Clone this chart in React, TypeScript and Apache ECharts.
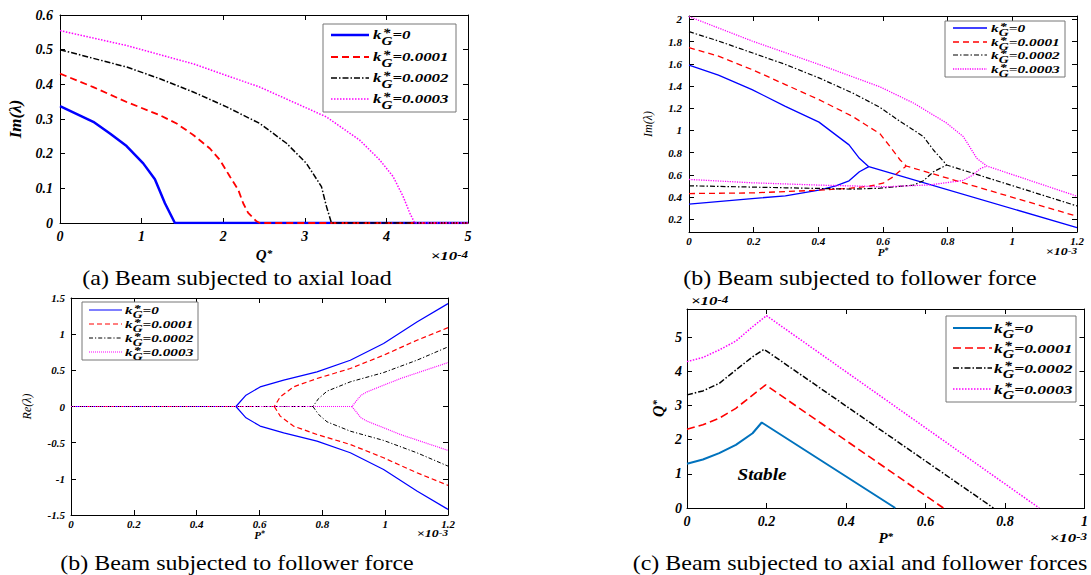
import React, { useEffect, useRef } from "react";
import * as echarts from "echarts";

const FONT = "'Liberation Serif', 'Times New Roman', serif";

const kValues = ["0", "0.0001", "0.0002", "0.0003"];
const colorsAB = ["#0000ff", "#ff0000", "#000000", "#ff00ff"];
const colorsC = ["#0072bd", "#ff0000", "#000000", "#ff00ff"];

// (a) Im(lambda) vs Q* (x1e-4), beam under axial load
const axialK0 = [[0, 0.337], [0.408, 0.292], [0.612, 0.258], [0.816, 0.222], [1.02, 0.172], [1.163, 0.126], [1.286, 0.057], [1.408, 0], [5, 0]];
const axialK1 = [[0, 0.431], [0.408, 0.392], [0.816, 0.349], [1.224, 0.311], [1.429, 0.287], [1.633, 0.254], [1.837, 0.215], [1.959, 0.182], [2.082, 0.134], [2.184, 0.096], [2.245, 0.057], [2.306, 0.029], [2.408, 0.005], [2.45, 0], [5, 0]];
const axialK2 = [[0, 0.5], [0.816, 0.45], [1.224, 0.416], [1.633, 0.378], [2.041, 0.335], [2.449, 0.287], [2.776, 0.23], [3.02, 0.172], [3.204, 0.105], [3.265, 0.048], [3.327, 0], [5, 0]];
const axialK3 = [[0, 0.555], [0.816, 0.512], [1.633, 0.459], [2.449, 0.392], [3.265, 0.306], [3.673, 0.239], [3.918, 0.182], [4.082, 0.134], [4.204, 0.077], [4.286, 0.029], [4.347, 0], [5, 0]];

// (b) Im(lambda) vs P* (x1e-3), follower force: upper branch (continues after coalescence) and lower branch
const follImUpperK0 = [[0, 1.588], [0.091, 1.497], [0.195, 1.367], [0.298, 1.217], [0.402, 1.075], [0.454, 0.96], [0.495, 0.87], [0.527, 0.749], [0.556, 0.674], [1.2, 0.125]];
const follImLowerK0 = [[0, 0.336], [0.195, 0.387], [0.298, 0.411], [0.402, 0.462], [0.454, 0.502], [0.495, 0.547], [0.527, 0.628], [0.556, 0.674]];
const follImUpperK1 = [[0, 1.745], [0.091, 1.669], [0.195, 1.548], [0.298, 1.413], [0.402, 1.277], [0.506, 1.126], [0.591, 0.969], [0.622, 0.854], [0.653, 0.734], [0.672, 0.68], [1.2, 0.227]];
const follImLowerK1 = [[0, 0.432], [0.2, 0.438], [0.4, 0.462], [0.5, 0.48], [0.56, 0.5], [0.6, 0.525], [0.63, 0.58], [0.65, 0.63], [0.672, 0.68]];
const follImUpperK2 = [[0, 1.889], [0.091, 1.805], [0.195, 1.699], [0.298, 1.594], [0.402, 1.473], [0.506, 1.337], [0.591, 1.207], [0.653, 1.081], [0.694, 1.005], [0.725, 0.945], [0.756, 0.824], [0.797, 0.689], [1.2, 0.32]];
const follImLowerK2 = [[0, 0.502], [0.298, 0.484], [0.506, 0.472], [0.591, 0.48], [0.694, 0.508], [0.725, 0.547], [0.756, 0.628], [0.797, 0.689]];
const follImUpperK3 = [[0, 2.025], [0.195, 1.805], [0.402, 1.594], [0.591, 1.392], [0.694, 1.247], [0.797, 1.066], [0.848, 0.945], [0.869, 0.849], [0.89, 0.749], [0.921, 0.68], [1.2, 0.408]];
const follImLowerK3 = [[0, 0.559], [0.195, 0.529], [0.402, 0.508], [0.609, 0.493], [0.745, 0.51], [0.848, 0.55], [0.879, 0.6], [0.9, 0.655], [0.921, 0.68]];

// (b) Re(lambda) vs P* (x1e-3): zero line + positive branch, and negative branch
const follReUpperK0 = [[0, 0], [0.525, 0], [0.557, 0.156], [0.602, 0.271], [0.677, 0.364], [0.783, 0.479], [0.889, 0.64], [0.995, 0.87], [1.101, 1.169], [1.2, 1.422]];
const follReLowerK0 = [[0.525, 0], [0.557, -0.156], [0.602, -0.271], [0.677, -0.364], [0.783, -0.479], [0.889, -0.64], [0.995, -0.87], [1.101, -1.169], [1.2, -1.422]];
const follReUpperK1 = [[0, 0], [0.647, 0], [0.666, 0.133], [0.708, 0.271], [0.783, 0.387], [0.889, 0.525], [0.995, 0.709], [1.101, 0.916], [1.2, 1.09]];
const follReLowerK1 = [[0.647, 0], [0.666, -0.133], [0.708, -0.271], [0.783, -0.387], [0.889, -0.525], [0.995, -0.709], [1.101, -0.916], [1.2, -1.09]];
const follReUpperK2 = [[0, 0], [0.77, 0], [0.788, 0.11], [0.815, 0.212], [0.889, 0.341], [0.995, 0.469], [1.101, 0.64], [1.2, 0.824]];
const follReLowerK2 = [[0.77, 0], [0.788, -0.11], [0.815, -0.212], [0.889, -0.341], [0.995, -0.469], [1.101, -0.64], [1.2, -0.824]];
const follReUpperK3 = [[0, 0], [0.894, 0], [0.923, 0.156], [0.942, 0.202], [1.048, 0.386], [1.2, 0.607]];
const follReLowerK3 = [[0.894, 0], [0.923, -0.156], [0.942, -0.202], [1.048, -0.386], [1.2, -0.607]];

// (c) stability boundary Q* (x1e-4) vs P* (x1e-3)
const boundK0 = [[0, 1.296], [0.04, 1.42], [0.081, 1.608], [0.123, 1.85], [0.165, 2.19], [0.188, 2.505], [0.524, 0]];
const boundK1 = [[0, 2.31], [0.04, 2.44], [0.081, 2.63], [0.123, 2.92], [0.165, 3.31], [0.198, 3.606], [0.645, 0]];
const boundK2 = [[0, 3.314], [0.04, 3.43], [0.081, 3.65], [0.123, 4.045], [0.165, 4.43], [0.194, 4.649], [0.771, 0]];
const boundK3 = [[0, 4.288], [0.04, 4.41], [0.081, 4.63], [0.123, 4.89], [0.165, 5.31], [0.2, 5.634], [0.886, 0]];

const imTicksB = [0.2, 0.4, 0.6, 0.8, 1, 1.2, 1.4, 1.6, 1.8, 2];
const qTicksC = [0, 1, 2, 3, 4, 5];

const captions = [
  { text: "(a) Beam subjected to axial load", x: 237, y: 277, sc: 1.09 },
  { text: "(b) Beam subjected to follower force", x: 860, y: 277, sc: 1.09 },
  { text: "(b) Beam subjected to follower force", x: 237, y: 562, sc: 1.09 },
  { text: "(c) Beam subjected to axial and follower forces", x: 860, y: 562, sc: 1.09 },
];

const dashA: any[] = ["solid", [7, 4], [6, 2, 1.5, 2], [1.5, 1.5]];
const dashB: any[] = ["solid", [6, 4], [5, 2, 1.5, 2], [1.2, 1.2]];
const dashB2: any[] = ["solid", [5, 3], [4, 2, 1.2, 2], [1, 1]];
const dashC: any[] = ["solid", [8, 4], [6, 2, 1.5, 2], [1.5, 1.5]];

const fmt1 = (v: number) => String(Math.round(v * 10) / 10);

function tick(extra: any = {}) {
  return { show: true, inside: true, length: 5, lineStyle: { color: "#000", width: 1 }, ...extra };
}
const axLine = { show: true, onZero: false, lineStyle: { color: "#000", width: 1 } };
function lab(fs: number, margin: number, extra: any = {}) {
  return { show: true, fontFamily: FONT, fontStyle: "italic", fontWeight: "bold", fontSize: fs, color: "#000", margin, ...extra };
}
function nameStyle(fs: number, bold = true) {
  const base = { fontFamily: FONT, fontStyle: "italic", fontWeight: bold ? "bold" : "normal", fontSize: fs, color: "#000" };
  return { ...base, rich: { s: { ...base, fontSize: Math.round(fs * 0.7), verticalAlign: "top", lineHeight: Math.round(fs * 0.8) } } };
}

function ser(grid: number, name: string, data: number[][], color: string, type: any, width: number) {
  return {
    type: "line", name, xAxisIndex: grid * 2, yAxisIndex: grid * 2, data,
    symbol: "none", showSymbol: false, silent: true,
    lineStyle: { color, type, width }, itemStyle: { color },
  };
}

function txt(text: string, x: number, y: number, fs: number, align: string) {
  return {
    type: "text", x, y, z: 102,
    style: { text, fill: "#000", fontFamily: FONT, fontSize: fs, fontStyle: "italic", fontWeight: "bold", textAlign: align, textVerticalAlign: "middle", align, verticalAlign: "middle" },
  };
}

function legend(L: any) {
  const els: any[] = [];
  els.push({ type: "rect", z: 100, shape: { x: L.box[0], y: L.box[1], width: L.box[2], height: L.box[3] }, style: { fill: "#fff", stroke: "#777", lineWidth: 1 } });
  L.rows.forEach((ry: number, i: number) => {
    const d = L.dash[i];
    els.push({ type: "line", z: 101, shape: { x1: L.sx[0], y1: ry, x2: L.sx[1], y2: ry }, style: { stroke: L.colors[i], lineWidth: L.widths[i], lineDash: d === "solid" ? null : d } });
    const f = L.fs;
    els.push({
      type: "group", x: L.tx, y: ry, scaleX: L.sc, z: 102,
      children: [
        txt("k", 0, 0, f, "left"),
        txt("G", 0.5 * f, 0.46 * f, 0.9 * f, "left"),
        txt("*", 0.8 * f, -0.12 * f, 0.9 * f, "center"),
        txt("=" + kValues[i], 1.15 * f, 0, f, "left"),
      ],
    });
  });
  return els;
}

function expText(x: number, y: number, exp: string, fs: number, sc: number, align: string) {
  const base = { fontFamily: FONT, fontStyle: "italic", fontWeight: "bold", fill: "#000" };
  return {
    type: "text", x, y, scaleX: sc, z: 50,
    style: {
      ...base, fontSize: fs, text: "\u00d710{s|" + exp + "}", textAlign: align, textVerticalAlign: "middle", align, verticalAlign: "middle",
      rich: { s: { ...base, fontSize: Math.round(fs * 0.8), verticalAlign: "top", lineHeight: Math.round(fs * 0.8) } },
    },
  };
}

function buildOption() {
  const grids = [
    { left: 60, top: 15, width: 408, height: 208 },
    { left: 689, top: 16, width: 388, height: 216 },
    { left: 71, top: 298, width: 377, height: 217 },
    { left: 687, top: 309, width: 401, height: 199 },
  ];
  const xAxis: any[] = [];
  const yAxis: any[] = [];
  const addX = (g: number, min: number, max: number, interval: number, fs: number, margin: number, fmt: any, name: string, gap: number, nfs: number) => {
    xAxis.push({ type: "value", gridIndex: g, position: "bottom", min, max, interval, axisLine: axLine, axisTick: tick(), splitLine: { show: false }, axisLabel: lab(fs, margin, { formatter: fmt }), name, nameLocation: "middle", nameGap: gap, nameTextStyle: nameStyle(nfs) });
    xAxis.push({ type: "value", gridIndex: g, position: "top", min, max, interval, axisLine: axLine, axisTick: tick(), splitLine: { show: false }, axisLabel: { show: false } });
  };
  const addY = (g: number, min: number, max: number, interval: any, custom: any, fs: number, margin: number, fmt: any, name: string, gap: number, nfs: number, bold: boolean) => {
    const tk = custom ? tick({ customValues: custom }) : tick();
    const lb = custom ? lab(fs, margin, { formatter: fmt, customValues: custom }) : lab(fs, margin, { formatter: fmt });
    const common: any = { type: "value", gridIndex: g, min, max, splitLine: { show: false }, axisLine: axLine };
    if (interval != null) common.interval = interval;
    yAxis.push({ ...common, position: "left", axisTick: tk, axisLabel: lb, name, nameLocation: "middle", nameRotate: 90, nameGap: gap, nameTextStyle: nameStyle(nfs, bold) });
    yAxis.push({ ...common, position: "right", axisTick: tk, axisLabel: { show: false } });
  };

  addX(0, 0, 5, 1, 14, 6, (v: number) => String(v), "Q{s|*}", 24, 15);
  addY(0, 0, 0.6, 0.1, null, 14, 7, fmt1, "Im(\u03bb)", 36, 17, true);

  addX(1, 0, 1.2, 0.2, 11, 3, fmt1, "P{s|*}", 12, 11);
  addY(1, 0.086, 2.03, null, imTicksB, 11, 7, fmt1, "Im(\u03bb)", 35, 12, false);

  addX(2, 0, 1.2, 0.2, 11, 3, fmt1, "P{s|*}", 12, 11);
  addY(2, -1.5, 1.5, 0.5, null, 11, 6, fmt1, "Re(\u03bb)", 38, 12, false);

  addX(3, 0, 1, 0.2, 14, 6, fmt1, "P{s|*}", 22, 15);
  addY(3, 0, 5.83, null, qTicksC, 14, 5, (v: number) => String(v), "Q{s|*}", 21, 16, true);

  const wA = [2.5, 1.8, 1.5, 1.5];
  const wB = [1.3, 1.3, 1.2, 1.3];
  const wB2 = [1.2, 1.2, 1, 1.2];
  const wC = [2, 1.6, 1.5, 1.5];

  const series: any[] = [];
  [axialK0, axialK1, axialK2, axialK3].forEach((d, i) => series.push(ser(0, "a k=" + kValues[i], d, colorsAB[i], dashA[i], wA[i])));
  const upB = [follImUpperK0, follImUpperK1, follImUpperK2, follImUpperK3];
  const loB = [follImLowerK0, follImLowerK1, follImLowerK2, follImLowerK3];
  upB.forEach((d, i) => series.push(ser(1, "b Im up k=" + kValues[i], d, colorsAB[i], dashB[i], wB[i])));
  loB.forEach((d, i) => series.push(ser(1, "b Im low k=" + kValues[i], d, colorsAB[i], dashB[i], wB[i])));
  const upR = [follReUpperK0, follReUpperK1, follReUpperK2, follReUpperK3];
  const loR = [follReLowerK0, follReLowerK1, follReLowerK2, follReLowerK3];
  upR.forEach((d, i) => series.push(ser(2, "b Re up k=" + kValues[i], d, colorsAB[i], dashB2[i], wB2[i])));
  loR.forEach((d, i) => series.push(ser(2, "b Re low k=" + kValues[i], d, colorsAB[i], dashB2[i], wB2[i])));
  [boundK0, boundK1, boundK2, boundK3].forEach((d, i) => series.push(ser(3, "c k=" + kValues[i], d, colorsC[i], dashC[i], wC[i])));

  const graphic: any[] = [];
  graphic.push(...legend({ box: [323, 24, 133, 88], rows: [35, 57, 78, 99], sx: [331, 369], tx: 373, fs: 13, sc: 1.3, colors: colorsAB, widths: wA, dash: dashA }));
  graphic.push(...legend({ box: [945, 21, 120, 56], rows: [28, 42, 55, 69], sx: [953, 987], tx: 991, fs: 11, sc: 1.4, colors: colorsAB, widths: wB, dash: dashB }));
  graphic.push(...legend({ box: [82, 302, 116, 58], rows: [310, 324, 338, 352], sx: [89, 122], tx: 125, fs: 11, sc: 1.39, colors: colorsAB, widths: wB2, dash: dashB2 }));
  graphic.push(...legend({ box: [946, 316, 130, 86], rows: [328, 348, 368, 389], sx: [953, 992], tx: 994, fs: 13, sc: 1.35, colors: colorsC, widths: wC, dash: dashC }));

  graphic.push(expText(468, 256, "-4", 13, 1.3, "right"));
  graphic.push(expText(1077, 252, "-3", 10, 1.4, "right"));
  graphic.push(expText(448, 534, "-3", 10, 1.4, "right"));
  graphic.push(expText(1087, 538, "-3", 13, 1.3, "right"));
  graphic.push(expText(691, 301, "-4", 13, 1.3, "left"));

  graphic.push({
    type: "text", x: 762, y: 475, scaleX: 1.2, z: 50,
    style: { text: "Stable", fill: "#000", fontFamily: FONT, fontSize: 16, fontStyle: "italic", fontWeight: "bold", textAlign: "center", textVerticalAlign: "middle", align: "center", verticalAlign: "middle" },
  });

  captions.forEach((c) => {
    graphic.push({
      type: "text", x: c.x, y: c.y, scaleX: c.sc, z: 50,
      style: { text: c.text, fill: "#000", fontFamily: FONT, fontSize: 22, textAlign: "center", textVerticalAlign: "middle", align: "center", verticalAlign: "middle" },
    });
  });

  return {
    animation: false,
    backgroundColor: "#fff",
    grid: grids.map((g) => ({ ...g, containLabel: false, show: false })),
    xAxis,
    yAxis,
    series,
    graphic,
  };
}

export default function App() {
  const ref = useRef<HTMLDivElement>(null);
  useEffect(() => {
    const chart = echarts.init(ref.current!, null, { renderer: "svg" });
    chart.setOption(buildOption() as any);
    return () => chart.dispose();
  }, []);
  return <div ref={ref} style={{ position: "absolute", left: 0, top: 0, width: 1091, height: 575, background: "#fff" }} />;
}
